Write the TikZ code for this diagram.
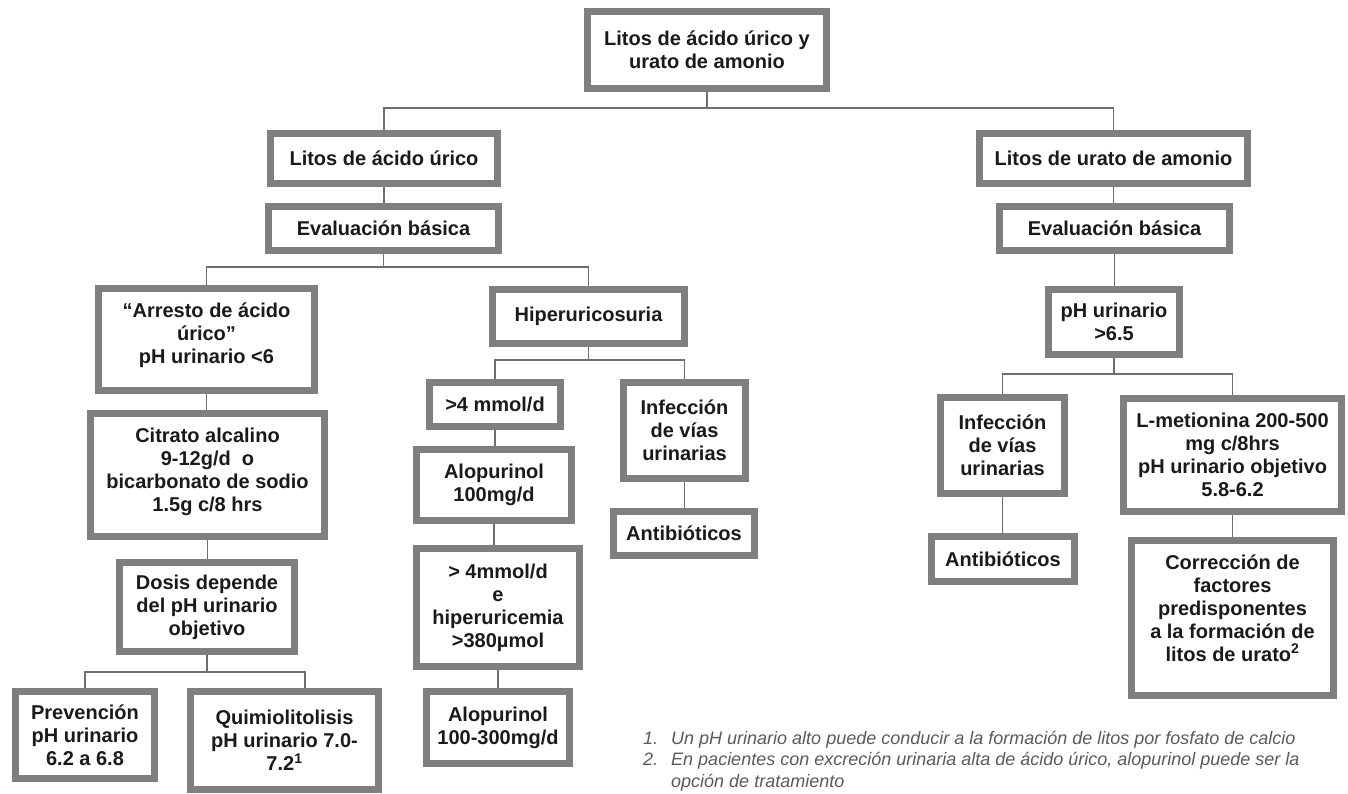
\documentclass[tikz,border=0pt]{standalone}
\usepackage{fontspec}
\setmainfont{Liberation Sans}
\usetikzlibrary{backgrounds}
\definecolor{boxgray}{HTML}{7F7F7F}
\definecolor{linegray}{HTML}{6E6E6E}
\definecolor{textdark}{HTML}{1A1A1A}
\definecolor{notegray}{HTML}{5A5A5A}
\newcommand{\placebox}[6]{%
  \node[box, minimum width={#4-#2-7}, minimum height={#5-#3-7}] (#1) at ({(#2+#4)/2},{(#3+#5)/2}) {#6};}
\begin{document}
\begin{tikzpicture}[x=1pt,y=-1pt,
  box/.style={draw=boxgray, line width=7pt, fill=white, inner sep=0pt, align=center, text=textdark, font=\fontsize{20}{23}\selectfont\bfseries},
  conn/.style={draw=linegray, line width=1.4pt},
  notes/.style={anchor=north west, inner sep=0pt, text=notegray, font=\fontsize{18}{21.5}\selectfont\itshape}]
\begin{pgfonlayer}{background}
\fill[white] (0,0) rectangle (1348,794);
\end{pgfonlayer}
\useasboundingbox (0,0) rectangle (1348,794);

\placebox{top}{584}{8}{830}{92}{Litos de ácido úrico y\\urato de amonio}
\placebox{litA}{267}{130}{501}{187}{Litos de ácido úrico}
\placebox{evalA}{265}{203}{502}{254}{Evaluación básica}
\placebox{arresto}{95}{285}{318}{394}{“Arresto de ácido\\úrico”\\pH urinario <6\\[-11pt]\mbox{}}
\placebox{citrato}{87}{410}{328}{540}{Citrato alcalino\\9-12g/d\ \ o\\bicarbonato de sodio\\1.5g c/8 hrs\\[-13pt]\mbox{}}
\placebox{dosis}{116}{559}{298}{655}{Dosis depende\\del pH urinario\\objetivo}
\placebox{prev}{12}{688}{158}{782}{Prevención\\pH urinario\\6.2 a 6.8}
\placebox{quim}{187}{688}{382}{793}{Quimiolitolisis\\pH urinario 7.0-\\7.2\textsuperscript{1}}
\placebox{hiper}{489}{286}{688}{347}{Hiperuricosuria}
\placebox{mmol}{426}{379}{564}{430}{>4 mmol/d}
\placebox{infecA}{620}{379}{749}{482}{Infección\\de vías\\urinarias}
\placebox{aloA}{413}{446}{575}{524}{Alopurinol\\100mg/d}
\placebox{antiA}{610}{508}{758}{559}{Antibióticos}
\placebox{mmolB}{413}{545}{583}{670}{> 4mmol/d\\e\\hiperuricemia\\>380µmol}
\placebox{aloB}{423}{688}{573}{767}{Alopurinol\\100-300mg/d}
\placebox{litB}{976}{130}{1251}{187}{Litos de urato de amonio}
\placebox{evalB}{996}{203}{1233}{254}{Evaluación básica}
\placebox{ph}{1045}{286}{1183}{358}{pH urinario\\>6.5}
\placebox{infecB}{937}{394}{1068}{497}{Infección\\de vías\\urinarias}
\placebox{lmet}{1120}{395}{1345}{515}{L-metionina 200-500\\mg c/8hrs\\pH urinario objetivo\\5.8-6.2}
\placebox{antiB}{928}{533}{1078}{585}{Antibióticos}
\placebox{corr}{1128}{537}{1337}{699}{Corrección de\\factores\\predisponentes\\a la formación de\\litos de urato\textsuperscript{2}\\[-3pt]\mbox{}}

\node[notes] (notes) at (643,729) {\begin{tabular}{@{}l@{\hspace{13pt}}l@{}}
1. & Un pH urinario alto puede conducir a la formación de litos por fosfato de calcio\\
2. & En pacientes con excreción urinaria alta de ácido úrico, alopurinol puede ser la\\
   & opción de tratamiento
\end{tabular}};

\coordinate (b0) at (0,108);
\coordinate (b1) at (0,267);
\coordinate (b2) at (0,672);
\coordinate (b3) at (0,360);
\coordinate (b4) at (0,374);
\coordinate (qtop) at ([xshift=20.5pt]quim.north);

\begin{pgfonlayer}{background}
\draw[conn] (top.south) -- (top.south |- b0);
\draw[conn] (litA.north) |- (litB.north |- b0) -- (litB.north);
\draw[conn] (litA.south) -- (litA.south |- evalA.north);
\draw[conn] (evalA.south) -- (evalA.south |- b1);
\draw[conn] (arresto.north) |- (hiper.north |- b1) -- (hiper.north);
\draw[conn] (arresto.south) -- (arresto.south |- citrato.north);
\draw[conn] (citrato.south) -- (citrato.south |- dosis.north);
\draw[conn] (dosis.south) -- (dosis.south |- b2);
\draw[conn] (prev.north) |- (qtop |- b2) -- (qtop);
\draw[conn] (hiper.south) -- (hiper.south |- b3);
\draw[conn] (mmol.north) |- (infecA.north |- b3) -- (infecA.north);
\draw[conn] (mmol.south) -- (mmol.south |- aloA.north);
\draw[conn] (aloA.south) -- (aloA.south |- mmolB.north);
\draw[conn] (mmolB.south) -- (mmolB.south |- aloB.north);
\draw[conn] (infecA.south) -- (infecA.south |- antiA.north);
\draw[conn] (litB.south) -- (litB.south |- evalB.north);
\draw[conn] (evalB.south) -- (evalB.south |- ph.north);
\draw[conn] (ph.south) -- (ph.south |- b4);
\draw[conn] (infecB.north) |- (lmet.north |- b4) -- (lmet.north);
\draw[conn] (infecB.south) -- (infecB.south |- antiB.north);
\draw[conn] (lmet.south) -- (lmet.south |- corr.north);
\end{pgfonlayer}
\end{tikzpicture}
\end{document}
